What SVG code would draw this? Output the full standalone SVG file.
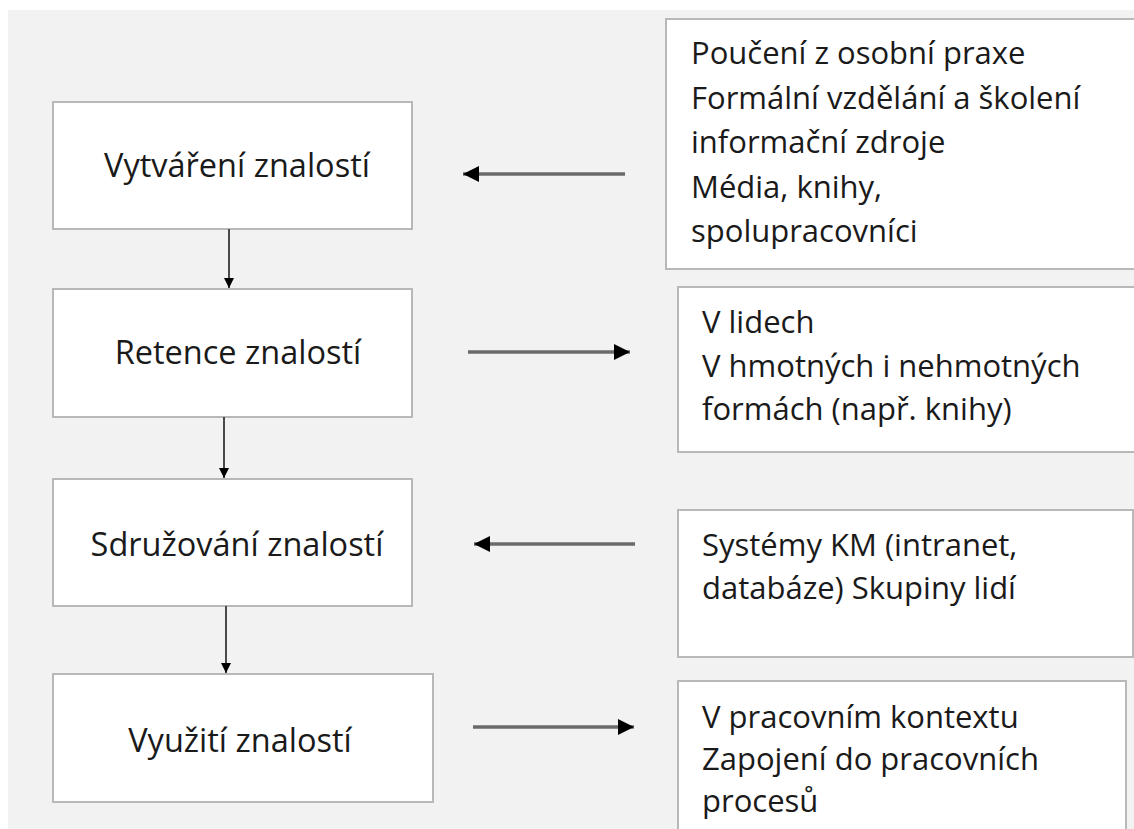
<svg xmlns="http://www.w3.org/2000/svg" width="1134" height="829" viewBox="0 0 1134 829">
<style>
.box{fill:#ffffff;stroke:#b8b8b8;stroke-width:2}
.main{font-family:"Open Sans","Noto Sans",sans-serif;font-size:32.5px;fill:#1a1a1a;text-anchor:middle}
.side{font-family:"Open Sans","Noto Sans",sans-serif;font-size:31px;fill:#1a1a1a}
.hl{stroke:#6a6a6a;stroke-width:3.5;fill:none}
.vl{stroke:#4a4a4a;stroke-width:2;fill:none}
</style>
<defs>
<marker id="ah" viewBox="0 0 10 10" refX="10" refY="5" markerUnits="userSpaceOnUse" markerWidth="17" markerHeight="16" orient="auto"><path d="M0,0 L10,5 L0,10 Z" fill="#000"/></marker>
<marker id="av" viewBox="0 0 10 10" refX="10" refY="5" markerUnits="userSpaceOnUse" markerWidth="10" markerHeight="12" orient="auto"><path d="M0,0 L10,5 L0,10 Z" fill="#000"/></marker>
</defs>
<rect x="0" y="0" width="1134" height="829" fill="#ffffff"/>
<rect x="8" y="10" width="1126" height="819" fill="#f2f2f2"/>
<g id="n1"><rect class="box" x="53" y="102" width="359" height="127"/><text class="main" x="237" y="177">Vytváření znalostí</text></g>
<g id="n2"><rect class="box" x="53" y="289" width="359" height="128"/><text class="main" x="238" y="364">Retence znalostí</text></g>
<g id="n3"><rect class="box" x="53" y="479" width="359" height="127"/><text class="main" x="237" y="556">Sdružování znalostí</text></g>
<g id="n4"><rect class="box" x="53" y="674" width="380" height="128"/><text class="main" x="240" y="752">Využití znalostí</text></g>
<g id="r1"><rect class="box" x="666" y="19" width="480" height="250"/>
<text class="side" x="691" y="64">Poučení z osobní praxe</text>
<text class="side" x="691" y="109">Formální vzdělání a školení</text>
<text class="side" x="691" y="153">informační zdroje</text>
<text class="side" x="691" y="198">Média, knihy,</text>
<text class="side" x="691" y="242">spolupracovníci</text></g>
<g id="r2"><rect class="box" x="678" y="287" width="470" height="165"/>
<text class="side" x="702" y="333">V lidech</text>
<text class="side" x="702" y="377">V hmotných i nehmotných</text>
<text class="side" x="702" y="420">formách (např. knihy)</text></g>
<g id="r3"><rect class="box" x="678" y="510" width="455" height="147"/>
<text class="side" x="702" y="556">Systémy KM (intranet,</text>
<text class="side" x="702" y="599">databáze) Skupiny lidí</text></g>
<g id="r4"><rect class="box" x="678" y="681" width="448" height="160"/>
<text class="side" x="702" y="728">V pracovním kontextu</text>
<text class="side" x="702" y="770">Zapojení do pracovních</text>
<text class="side" x="702" y="812">procesů</text></g>
<g id="connectors">
<line class="vl" x1="229" y1="229" x2="229" y2="288" marker-end="url(#av)"/>
<line class="vl" x1="224" y1="417" x2="224" y2="478" marker-end="url(#av)"/>
<line class="vl" x1="226" y1="606" x2="226" y2="673" marker-end="url(#av)"/>
<line class="hl" x1="625" y1="174" x2="463" y2="174" marker-end="url(#ah)"/>
<line class="hl" x1="468" y1="352" x2="630" y2="352" marker-end="url(#ah)"/>
<line class="hl" x1="635" y1="544" x2="474" y2="544" marker-end="url(#ah)"/>
<line class="hl" x1="473" y1="727" x2="634" y2="727" marker-end="url(#ah)"/>
</g>
</svg>
